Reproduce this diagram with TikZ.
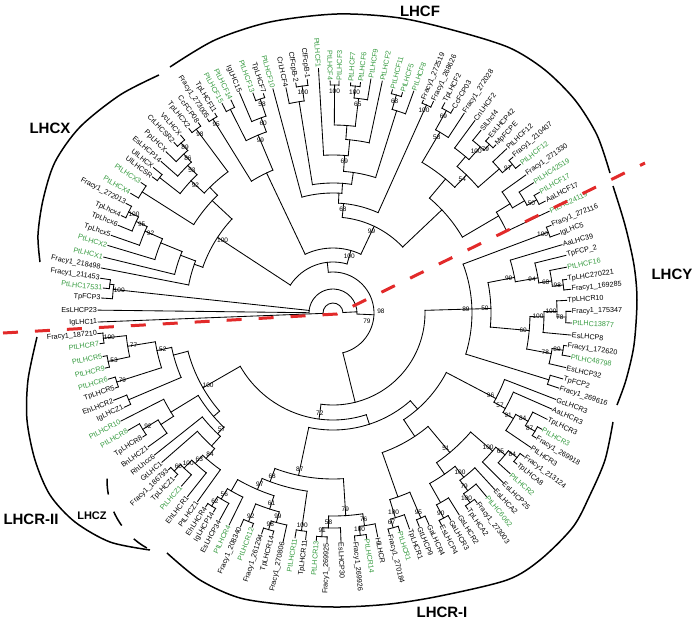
\documentclass[tikz,border=0pt]{standalone}
\usepackage{fontspec}
\setmainfont{Liberation Sans}
\definecolor{ptgreen}{RGB}{55,155,65}
\definecolor{cutred}{RGB}{226,42,42}
\tikzset{
  br/.style={line width=0.85pt, line cap=rect},
  lab/.style={font=\fontsize{7.2}{8}\selectfont, inner sep=0.8pt},
  grn/.style={text=ptgreen},
  blk/.style={text=black},
  bs/.style={font=\fontsize{6.5}{7}\selectfont, inner sep=0.3pt, text=black},
  grp/.style={font=\bfseries\fontsize{15}{16}\selectfont},
  grpsmall/.style={font=\bfseries\fontsize{11}{12}\selectfont},
  bracket/.style={line width=1.5pt},
  cut/.style={cutred, line width=3pt, dash pattern=on 15pt off 17pt},
}
\newcommand\leaf[5]{%
  \expandafter\xdef\csname tS@#1\endcsname{#2}%
  \expandafter\xdef\csname tN@#1\endcsname{1}%
  \expandafter\xdef\csname tA@#1\endcsname{#2}%
  \coordinate (#1) at (#2:#3pt);%
  \pgfmathsetmacro\lcos{cos(#2)}%
  \ifdim\lcos pt<0pt
    \pgfmathsetmacro\lrot{#2+180}%
    \node[lab,#5,anchor=east,rotate=\lrot] (#1t) at (#1) {#4};%
  \else
    \node[lab,#5,anchor=west,rotate=#2] (#1t) at (#1) {#4};%
  \fi
}
\newcommand\clade[4]{%
  \gdef\cS{0}\gdef\cN{0}\gdef\cMin{1000}\gdef\cMax{-1000}%
  \foreach \ch in {#3}{%
    \edef\chA{\csname tA@\ch\endcsname}%
    \edef\chS{\csname tS@\ch\endcsname}%
    \edef\chN{\csname tN@\ch\endcsname}%
    \pgfmathsetmacro\tmp{\cS+\chS}\xdef\cS{\tmp}%
    \pgfmathsetmacro\tmp{\cN+\chN}\xdef\cN{\tmp}%
    \pgfmathsetmacro\tmp{min(\cMin,\chA)}\xdef\cMin{\tmp}%
    \pgfmathsetmacro\tmp{max(\cMax,\chA)}\xdef\cMax{\tmp}%
    \draw[br] (\ch) -- (\chA:#2pt);%
  }%
  \pgfmathsetmacro\cAng{\cS/\cN}%
  \draw[br] (\cMin:#2pt) arc[start angle=\cMin, end angle=\cMax, radius=#2pt];%
  \expandafter\xdef\csname tS@#1\endcsname{\cS}%
  \expandafter\xdef\csname tN@#1\endcsname{\cN}%
  \expandafter\xdef\csname tA@#1\endcsname{\cAng}%
  \coordinate (#1) at (\cAng:#2pt);%
  \if\relax\detokenize{#4}\relax\else
    \pgfmathsetmacro\bsr{#2-6}%
    \node[bs] (#1b) at (\cAng:\bsr pt) {#4};%
  \fi
}
\begin{document}
\begin{tikzpicture}
\begin{scope}[shift={(-333pt,313pt)}, yscale=-1]
\useasboundingbox (0pt,0pt) rectangle (697pt,622pt);
\end{scope}
% ---------------- leaves ----------------
\leaf{i0}{182.2}{235}{IgLHC11}{blk}
\leaf{i1}{179.3}{235}{EsLHCP23}{blk}
\leaf{i2}{176.3}{232}{TpFCP3}{blk}
\leaf{i3}{173.8}{231}{PtLHC17531}{grn}
\leaf{i4}{171.5}{235}{Fracy1\_211453}{blk}
\leaf{i5}{169.0}{236}{Fracy1\_218498}{blk}
\leaf{i6}{166.3}{236}{PtLHCX1}{grn}
\leaf{i7}{163.3}{235}{PtLHCX2}{grn}
\leaf{i8}{160.7}{235}{TpLhcx5}{blk}
\leaf{i9}{157.8}{232}{TpLhcx6}{blk}
\leaf{i10}{155.3}{233}{TpLhcx4}{blk}
\leaf{i11}{152.1}{234}{Fracy1\_272013}{blk}
\leaf{i12}{149.4}{235}{PtLHCX4}{grn}
\leaf{i13}{145.8}{232}{PtLHCX3}{grn}
\leaf{i14}{143.0}{226}{UlLHCSR}{blk}
\leaf{i15}{141.0}{231}{UlLHCX}{blk}
\leaf{i16}{138.6}{229}{EsLHCP14}{blk}
\leaf{i17}{136.0}{232}{PpLHCX}{blk}
\leaf{i18}{133.0}{233}{CrLHCSR2}{blk}
\leaf{i19}{130.6}{234}{VcLHCX}{blk}
\leaf{i20}{128.0}{234}{TpLHCX2}{blk}
\leaf{i21}{125.3}{233}{CcFCP08}{blk}
\leaf{i22}{122.9}{231}{Fracy1\_273005}{blk}
\leaf{i23}{120.6}{232}{TpLHCF11}{blk}
\leaf{i24}{117.9}{237}{PtLHCF15}{grn}
\leaf{i25}{115.6}{236}{PtLHCF14}{grn}
\leaf{i26}{113.0}{239}{IgLHC15}{blk}
\leaf{i27}{110.0}{234}{PtLHCF13}{grn}
\leaf{i28}{107.6}{230}{TpLHCF7}{blk}
\leaf{i29}{105.0}{232}{PtLHCF10}{grn}
\leaf{i30}{101.8}{230}{CrLHCF4}{blk}
\leaf{i31}{99.2}{233}{CfFcpB-2}{blk}
\leaf{i32}{96.3}{235}{CfFcpB-1}{blk}
\leaf{i33}{93.4}{245}{PtLHCF1}{grn}
\leaf{i34}{90.7}{232}{PtLHCF4}{grn}
\leaf{i35}{88.5}{232}{PtLHCF3}{grn}
\leaf{i36}{85.6}{231}{PtLHCF7}{grn}
\leaf{i37}{83.2}{232}{PtLHCF6}{grn}
\leaf{i38}{80.8}{237}{PtLHCF9}{grn}
\leaf{i39}{78.0}{237}{PtLHCF2}{grn}
\leaf{i40}{75.1}{231}{PtLHCF11}{grn}
\leaf{i41}{72.5}{231}{PtLHCF5}{grn}
\leaf{i42}{70.0}{236}{PtLHCF8}{grn}
\leaf{i43}{67.0}{231}{Fracy1\_272519}{blk}
\leaf{i44}{64.6}{234}{Fracy1\_268626}{blk}
\leaf{i45}{62.0}{238}{TpLHCF2}{blk}
\leaf{i46}{59.5}{237}{CcFCP03}{blk}
\leaf{i47}{56.7}{239}{Fracy1\_272028}{blk}
\leaf{i48}{53.6}{239}{CnLHCF2}{blk}
\leaf{i49}{51.0}{235}{SlLhcf4}{blk}
\leaf{i50}{48.4}{235}{EsLHCP42}{blk}
\leaf{i51}{45.9}{234}{MpFCPE}{blk}
\leaf{i52}{43.4}{239}{PtLHCF12}{blk}
\leaf{i53}{40.9}{238}{Fracy1\_210407}{blk}
\leaf{i54}{38.4}{239}{PtLHCF12}{grn}
\leaf{i55}{35.6}{237}{Fracy1\_271330}{blk}
\leaf{i56}{33.0}{239}{PtLHC42519}{grn}
\leaf{i57}{30.3}{239}{PtLHCF17}{grn}
\leaf{i58}{27.8}{240}{AaLHCF17}{blk}
\leaf{i59}{25.2}{239}{PtLHC24119}{grn}
\leaf{i60}{21.9}{235}{Fracy1\_272116}{blk}
\leaf{i61}{19.3}{240}{IgLHC5}{blk}
\leaf{i62}{16.6}{239}{AaLHC39}{blk}
\leaf{i63}{13.9}{240}{TpFCP\_2}{blk}
\leaf{i64}{11.1}{238}{PtLHCF16}{grn}
\leaf{i65}{8.2}{236}{TpLHC270221}{blk}
\leaf{i66}{5.7}{239}{Fracy1\_169285}{blk}
\leaf{i67}{3.1}{234}{TpLHCR10}{blk}
\leaf{i68}{0.4}{238}{Fracy1\_175347}{blk}
\leaf{i69}{-2.4}{239}{PtLHC13877}{grn}
\leaf{i70}{-5.3}{239}{EsLHCP8}{blk}
\leaf{i71}{-8.0}{236}{Fracy1\_172620}{blk}
\leaf{i72}{-10.4}{241}{PtLHC48798}{grn}
\leaf{i73}{-13.2}{239}{EsLHCP32}{blk}
\leaf{i74}{-16.0}{239}{TpFCP2}{blk}
\leaf{i75}{-18.4}{238}{Fracy1\_269616}{blk}
\leaf{i76}{-21.2}{239}{GcLHCR3}{blk}
\leaf{i77}{-23.7}{239}{AaLHCR3}{blk}
\leaf{i78}{-26.4}{239}{TpLHCR3}{blk}
\leaf{i79}{-29.1}{239}{PtLHCR3}{grn}
\leaf{i80}{-31.6}{238}{Fracy1\_269918}{blk}
\leaf{i81}{-34.2}{239}{PtLHCR3}{blk}
\leaf{i82}{-36.9}{239}{Fracy1\_213124}{blk}
\leaf{i83}{-39.4}{238}{TpLHCA8}{blk}
\leaf{i84}{-42.2}{239}{PtLHCR2}{grn}
\leaf{i85}{-44.9}{240}{EsLHCP25}{blk}
\leaf{i86}{-47.5}{239}{EsLHCA2}{blk}
\leaf{i87}{-50.1}{239}{PtLHC6062}{grn}
\leaf{i88}{-52.8}{238}{Fracy1\_273003}{blk}
\leaf{i89}{-55.5}{238}{TpLHCA2}{blk}
\leaf{i90}{-58.0}{238}{GsLHCR2}{blk}
\leaf{i91}{-60.4}{238}{GaLHCR3}{blk}
\leaf{i92}{-62.9}{238}{EsLHCP4}{blk}
\leaf{i93}{-65.6}{232}{GaLHCR4}{blk}
\leaf{i94}{-68.0}{230}{GtLHCP9}{blk}
\leaf{i95}{-70.5}{229}{TpLHCR1}{blk}
\leaf{i96}{-73.0}{228}{PtLHCR1}{grn}
\leaf{i97}{-75.7}{228}{Fracy1\_270184}{blk}
\leaf{i98}{-78.7}{228}{HlLHCR}{blk}
\leaf{i99}{-81.5}{228}{PtLHCR14}{grn}
\leaf{i100}{-84.5}{229}{Fracy1\_269926}{blk}
\leaf{i101}{-88.0}{229}{EsLHCP30}{blk}
\leaf{i102}{-91.5}{230}{Fracy1\_269925}{blk}
\leaf{i103}{-94.2}{228}{PtLHCR13}{grn}
\leaf{i104}{-96.9}{228}{TpLHCR11}{blk}
\leaf{i105}{-99.6}{228}{PtLHCR11}{grn}
\leaf{i106}{-102.3}{234}{Fracy1\_270806}{blk}
\leaf{i107}{-105.2}{230}{TpLHCR14}{blk}
\leaf{i108}{-107.9}{232}{Fracy1\_261294}{blk}
\leaf{i109}{-110.7}{229}{PtLHCR12}{grn}
\leaf{i110}{-113.4}{233}{Fracy1\_208340}{blk}
\leaf{i111}{-116.1}{236}{PtLHCR4}{grn}
\leaf{i112}{-118.7}{236}{EsLHCP34}{blk}
\leaf{i113}{-121.0}{232}{IgLHCP14}{blk}
\leaf{i114}{-123.3}{232}{EhLHCR4}{blk}
\leaf{i115}{-125.7}{232}{PtLHCZ1}{blk}
\leaf{i116}{-128.4}{234}{EhLHCR1}{blk}
\leaf{i117}{-131.2}{230}{PtLHCZ1}{grn}
\leaf{i118}{-133.9}{228}{TpLHCZ1}{blk}
\leaf{i119}{-136.4}{227}{Fracy1\_186793}{blk}
\leaf{i120}{-138.9}{227}{GtLHC1}{blk}
\leaf{i121}{-141.5}{228}{RhLhcc6}{blk}
\leaf{i122}{-144.1}{228}{BnLHCZ1}{blk}
\leaf{i123}{-146.9}{227}{TpLHCR8}{blk}
\leaf{i124}{-150.2}{236}{PtLHCR8}{grn}
\leaf{i125}{-153.0}{238}{PtLHCR10}{grn}
\leaf{i126}{-155.7}{229}{IgLHCZ1}{blk}
\leaf{i127}{-158.3}{236}{EhLHCR2}{blk}
\leaf{i128}{-161.0}{230}{TpLHCR5}{blk}
\leaf{i129}{-163.6}{234}{PtLHCR6}{grn}
\leaf{i130}{-166.4}{234}{PtLHCR9}{grn}
\leaf{i131}{-169.3}{234}{PtLHCR5}{grn}
\leaf{i132}{-172.5}{235}{PtLHCR7}{grn}
\leaf{i133}{-175.0}{236}{Fracy1\_187210}{blk}
% ---------------- base ----------------
\clade{b1}{225}{i4,i3}{}
\clade{fcp3}{221}{b1,i2}{100}
% ---------------- LHCX ----------------
\clade{x100}{228}{i10,i11}{100}
\clade{x95}{217}{i9,x100}{95}
\clade{x92}{205}{i8,x95}{92}
\clade{cX2}{186}{i7,x92}{}
\clade{cX1}{163}{i6,cX2}{}
\clade{cX0}{147}{i5,cX1}{}
\clade{x34}{226}{i12,i13}{}
\clade{ul}{220}{i14,i15}{}
\clade{x89}{228}{i18,i19}{89}
\clade{x86}{218}{i17,x89}{86}
\clade{x53}{207}{i16,x86}{53}
\clade{x92b}{194}{ul,x53}{92}
\clade{x98}{229}{i20,i21}{98}
\clade{xU}{176}{x92b,x98}{}
\clade{xU2}{165}{x34,xU}{}
\clade{LHCXn}{138}{cX0,xU2}{100}
% ---------------- LHCF ----------------
\clade{fA}{228}{i22,i23}{95}
\clade{f1514}{228}{i24,i25}{}
\clade{f58}{226}{i27,i28}{58}
\clade{f60}{208}{i26,f58}{60}
\clade{f99}{193}{f1514,f60}{99}
\clade{fB}{155}{fA,f99}{}
\clade{cfb}{229}{i31,i32}{100}
\clade{cCr}{214}{i30,cfb}{}
\clade{c100a}{228}{i34,i35}{100}
\clade{c100b}{228}{i36,i37}{100}
\clade{c65}{216}{c100b,i38}{65}
\clade{cG1}{188}{c100a,c65}{}
\clade{cG2}{174}{cG1,i39}{}
\clade{n69}{158}{i33,cG2}{69}
\clade{c68}{227}{i40,i41}{68}
\clade{cG3}{212}{c68,i42}{}
\clade{nF2}{142}{n69,cG3}{}
\clade{nF3}{130}{cCr,nF2}{}
\clade{FL}{120}{i29,nF3}{}
\clade{c100c}{228}{i43,i44}{100}
\clade{F68}{110}{FL,c100c}{68}
\clade{c69b}{232}{i45,i46}{69}
\clade{c58}{210}{c69b,i47}{58}
\clade{c79}{230}{i50,i51}{79}
\clade{c100d}{222}{i49,c79}{100}
\clade{cCn}{205}{i48,c100d}{}
\clade{c97}{233}{i53,i54}{97}
\clade{cF12}{220}{i52,c97}{}
\clade{n54}{192}{cCn,cF12}{54}
\clade{FR1}{175}{c58,n54}{}
\clade{c50}{233}{i57,i58}{50}
\clade{cY1}{222}{i56,c50}{}
\clade{cY2}{208}{i55,cY1}{}
\clade{cY3}{192}{cY2,i59}{}
\clade{FR}{150}{FR1,cY3}{}
\clade{F99}{96}{F68,FR}{99}
\clade{Fn}{65}{fB,F99}{100}
\clade{Q}{51}{LHCXn,Fn}{}
% ---------------- LHCY ----------------
\clade{ly100}{230}{i60,i61}{100}
\clade{ly98}{232}{i65,i66}{98}
\clade{ly68}{221}{i64,ly98}{68}
\clade{ly94}{208}{i63,ly68}{94}
\clade{ly99}{185}{i62,ly94}{99}
\clade{ly78}{233}{i68,i69}{78}
\clade{ly100b}{224}{i67,ly78}{100}
\clade{ly100c}{211}{ly100b,i70}{100}
\clade{ly89b}{233}{i71,i72}{89}
\clade{ly78c}{222}{ly89b,i73}{78}
\clade{ly60}{197}{ly100c,ly78c}{60}
\clade{ly50}{158}{ly99,ly60}{50}
\clade{lyTp}{226}{i74,i75}{}
\clade{LY}{139}{ly100,ly50,lyTp}{89}
% ---------------- LHCR-I ----------------
\clade{r87}{234}{i79,i80}{87}
\clade{r84}{223}{i78,r87}{84}
\clade{r91}{209}{r84,i81}{91}
\clade{r57}{197}{i77,r91}{57}
\clade{r96}{184}{i76,r57}{96}
\clade{r84b}{234}{i82,i83}{84}
\clade{r65}{223}{r84b,i84}{65}
\clade{r100e}{211}{r65,i85}{100}
\clade{r100f}{234}{i88,i89}{100}
\clade{r79}{223}{i87,r100f}{79}
\clade{r100g}{210}{i86,r79}{100}
\clade{r90}{233}{i91,i92}{90}
\clade{rGs}{218}{i90,r90}{}
\clade{rGg}{196}{r100g,rGs}{}
\clade{r51}{182}{r100e,rGg}{51}
\clade{r95}{223}{i93,i94}{95}
\clade{r67}{223}{i96,i97}{67}
\clade{r100h}{214}{i95,r67}{100}
\clade{rH}{195}{r95,r100h}{}
\clade{rM}{148}{rH,r51}{}
\clade{rU}{128}{r96,rM}{}
\clade{b100}{224}{i99,i100}{100}
\clade{b76}{215}{i98,b100}{76}
\clade{b91}{224}{i102,i103}{91}
\clade{b58}{215}{i101,b91}{58}
\clade{b79}{203}{b58,b76}{79}
\clade{b100c}{220}{i104,i105}{100}
\clade{b98}{226}{i107,i108}{98}
\clade{b99}{217}{i106,b98}{99}
\clade{b92}{225}{i109,i110}{92}
\clade{b61}{206}{b99,b92}{61}
\clade{b62}{228}{i113,i114}{62}
\clade{b56}{217}{i112,b62}{56}
\clade{bPt4}{205}{i111,b56}{}
\clade{b97}{192}{b61,bPt4}{97}
\clade{b68}{180}{b100c,b97}{68}
\clade{b87}{166}{b68,b79}{87}
\clade{LRI}{117}{rU,b87}{}
% ---------------- LHCR-II ----------------
\clade{b60}{224}{i118,i119}{60}
\clade{b100z}{215}{i117,b60}{100}
\clade{b63}{204}{i116,b100z}{63}
\clade{b84}{193}{i115,b63}{84}
\clade{bGt}{180}{i120,b84}{}
\clade{b57}{167}{bGt,i121}{57}
\clade{b92r}{223}{i123,i124}{92}
\clade{bBn}{205}{i122,b92r}{}
\clade{bR10}{190}{bBn,i125}{}
\clade{b57b}{158}{b57,bR10}{}
\clade{b100r7}{231}{i132,i133}{100}
\clade{b53}{230}{i130,i131}{53}
\clade{b77}{208}{b53,b100r7}{77}
\clade{b79r}{227}{i128,i129}{79}
\clade{b52}{180}{b79r,b77}{52}
\clade{bEh}{222}{i126,i127}{}
\clade{bL2}{165}{bEh,b52}{}
\clade{b100II}{150}{b57b,bL2}{100}
\clade{LR}{107}{LRI,b100II}{72}
% ---------------- backbone ----------------
\clade{YR}{92}{LY,LR}{}
\clade{P2}{41}{YR,Q}{}
\clade{P1}{24}{i1,fcp3,P2}{}
\clade{ROOT}{10}{i0,P1}{}
% ---------------- overlay in image coordinates ----------------
\begin{scope}[shift={(-333pt,313pt)}, yscale=-1]
\node[bs] at (381pt,311pt) {98};
\node[bs] at (367pt,321pt) {79};
% group brackets
\draw[bracket] plot[smooth] coordinates {(159pt,75pt) (120pt,95pt) (80pt,127pt) (55pt,162pt) (43pt,200pt) (38pt,235pt) (40pt,262pt)};
\draw[bracket] plot[smooth] coordinates {(170pt,67pt) (215pt,40pt) (270pt,22pt) (337pt,14pt) (400pt,18pt) (460pt,32pt) (510pt,48pt) (545pt,70pt) (575pt,100pt) (597pt,135pt) (610pt,173pt)};
\draw[bracket] plot[smooth] coordinates {(613pt,186pt) (625pt,225pt) (634pt,265pt) (637pt,300pt) (634pt,345pt) (626pt,380pt) (617pt,405pt)};
\draw[bracket] plot[smooth] coordinates {(613pt,422pt) (605pt,460pt) (590pt,495pt) (573pt,527pt) (540pt,560pt) (507pt,580pt) (440pt,596pt) (390pt,604pt) (340pt,607pt) (290pt,605pt) (240pt,598pt) (200pt,580pt) (167pt,553pt)};
\draw[bracket] plot[smooth] coordinates {(37pt,337pt) (28pt,380pt) (27pt,420pt) (35pt,460pt) (50pt,495pt) (75pt,522pt) (110pt,542pt) (150pt,550pt)};
\draw[bracket, dash pattern=on 16pt off 18pt] (185pt,480pt) ++(181:78pt) arc[start angle=181, end angle=119, radius=78pt];
% group labels
\node[grp] at (50pt,128pt) {LHCX};
\node[grp] at (420pt,11pt) {LHCF};
\node[grp] at (672pt,274pt) {LHCY};
\node[grp] at (442pt,612pt) {LHCR-I};
\node[grp] at (31pt,519pt) {LHCR-II};
\node[grpsmall] at (92pt,516pt) {LHCZ};
% dividing line
\draw[cut] (3pt,333pt) -- (337pt,314pt) -- (645pt,163pt);
\end{scope}
\end{tikzpicture}
\end{document}
